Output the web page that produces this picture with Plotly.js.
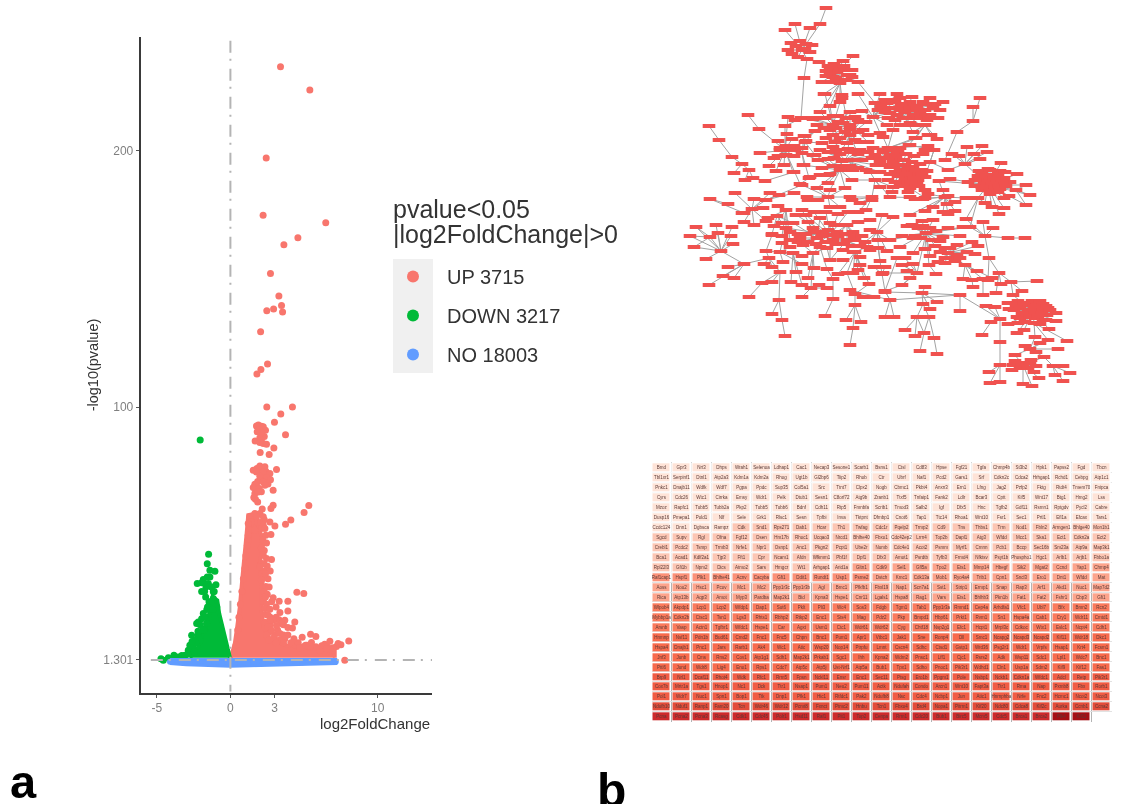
<!DOCTYPE html>
<html><head><meta charset="utf-8">
<script src="https://cdn.plot.ly/plotly-3.0.1.min.js"></script>
<style>html,body{margin:0;padding:0;background:#fff;overflow:hidden}#chart{width:1129px;height:804px;filter:blur(0.75px)}</style>
</head><body><div id="chart"></div>
<script>
// ---------- panel a: volcano (x = log2FoldChange, y = -log10(pvalue)) ----------
const upX = [3.40,5.39,2.43,2.22,6.47,4.58,3.63,2.72,3.29,3.47,3.54,2.93,2.47,2.05,2.52,2.07,1.80,2.47,4.21,3.42,2.99,3.74,2.95,2.63,2.02,1.68,1.77,2.23,1.95,2.38,2.11,1.82,2.0,2.23,2.45,2.0,2.34,3.13,1.55,1.77,2.23,2.68,2.0,2.45,2.72,1.66,2.23,2.34,1.55,1.95,2.9,1.66,1.89,1.59,2.9,2.75,2.16,5.32,5.0,4.1,3.74,3.02,2.75,2.68,2.23,2.11,2.34,1.66,1.32,2.0,1.77,1.43,1.21,2.23,2.79,2.23,2.45,2.27,2.0,2.38,2.11,2.63,4.51,4.98,2.38,2.9,3.31,3.9,2.34,2.68,3.36,3.9,2.56,4.37,3.69,2.9,3.47,3.13,4.21,2.56,2.79,3.36,5.44,5.8,4.87,4.31,3.69,6.75,8.03,7.31,6.97,7.76,6.07,5.39,4.71,6.52,1.21,1.15,1.05,0.98,0.88,0.78,0.68,0.58,0.5,0.38,2.45,2.6,2.95,3.3,3.1,2.7,3.6,4.1,5.1];
const upY = [232.9,223.8,197.3,174.9,172,166.1,163.4,152.2,143.4,139.7,137.1,138.3,137.6,129.4,116.8,114.7,112.9,100.1,100.1,97.3,94.1,89.2,84,81.5,82.3,86.8,92.6,92.3,91,91,90,90.4,86.2,85.8,85.5,77,76.7,75.7,75.4,74.7,74.7,74.1,73,72.5,71.7,69.9,70.8,69.5,68.6,68.2,67.6,66.3,66.9,64.7,61.7,60.4,60.2,61.6,58.9,55.9,54.3,53.6,50.3,55.2,53.9,52.6,52.6,58.5,57.2,58.5,57.2,55.2,54.6,57.2,40.5,42.2,40.9,38.9,37.6,35,32.4,29.8,27.7,27.2,25.9,25.6,24.2,24.2,21.4,21.1,19.8,20.4,18.8,16.1,16.8,16.8,15.5,14.8,13.8,14.2,12.9,11.6,11.3,10.5,10.2,9.6,9.6,8.6,8.7,7.7,6.1,1.2,5.1,6.6,6.1,5.7,50,46,42,37,33,28,23,18,13,7,11,9,10,9,8,17,8,8,7];
const upCloudX = [2.0,2.15,2.3,1.9,2.1,1.8,1.95,2.1,2.3,2.4,2.55,2.15,2.3,2.55,1.85,1.7,1.8,2.1,1.7,1.85,1.5,1.6,1.85,2.05,2.3,2.4,1.3,1.45,1.65,2.2,2.45,2.1,2.3,1.2,2.1,2.3,2.15,2.5,2.7,2.55,2.4,2.3,2.5,2.25,2.45,2.8,3.1,2.4,2.7,3.1,3.3,3.6,3.9,2.35,2.6,3,3.2,3.6,3.9,4.4,4.6,4.95,5.2,5.8,6.2,6.4,6.6,6.9,7.2,7.5,5.5,3.4,2.7];
const upCloudY = [88,88,88.5,93,92.5,76,75,76,73,75,73,72,71,70,71,68,69,67,64,63,57,56,55,55,56,50,52,52,52,48,47,45,44,48,39,36,35,38,36,33,30,28,27,24,23,24,22,19,18,18,17,15,14,16,12,11,13,11,11,7,8,6.5,7,6.5,6.8,7.4,6.4,5,6.6,7.2,8.1,9,15];
const upCoreX = [0.03,0.3,0.46,0.64,0.82,0.92,1.0,1.1,1.21,1.77,1.95,2.27,2.11,1.95,2.23,2.09,2.09,2.23,2.68,3.81,5.62,7.08,7.08];
const upCoreY = [2.2,7.7,14.2,22,33.7,38.9,45.4,50.6,57.8,58.5,52,48,42.8,37.6,33.7,28.5,22,14.2,9.6,7,5.7,5,2.2];
const downX = [-2.05,-1.48,-1.57,-1.05,-1.39,-1.57,-1.84,-2.25,-1.95,-1.5,-0.98,-1.66,-1.16,-1.68,-1.16,-1.05,-1.28,-1.39,-1.84,-1.5,-2.18,-2.29,-1.62,-1.95,-2.63,-2.18,-2.41,-2.75,-2.52,-2.07,-2.86,-3.08,-3.83,-4.21,-4.71,-4.55,-3.2,-3.54,-0.92,-1.3,-1.75,-1.6,-1.1,-1.45,-1.55,-1.2,-1.75,-2.05,-1.85,-2.2,-2.35,-2.6,-2.45,-2.9,-3.3,-1.75,-1.95];
const downY = [87.2,42.6,38.9,35.9,36.3,33.7,32.7,31.1,31.4,31.1,30.7,29.8,27.9,25.9,25.3,23.3,29.8,33.7,19.4,18.1,16.1,15.5,15.5,17.4,10.9,10.9,9,7,6.4,9,5.1,3.1,3.1,2.2,1.8,1.2,2.5,2.5,22,24,13,21,28,24,22,21,18,15,13,12.5,8,8.5,4.5,3.5,3,28,28];
const downCoreX = [-0.03,-0.44,-0.76,-0.89,-1.21,-1.43,-1.73,-1.95,-2.18,-2.75];
const downCoreY = [2.2,11.6,19.4,24.6,25.9,19.4,14.2,10.3,6.4,2.2];
const noX = [-4.1,-3.3,-2.4,-1.5,-0.6,0.3,1.2,2.2,3.1,4.0,4.9,5.8,6.6,7.15];
const noY = [0.6,0.4,0.2,0.1,-0.1,-0.2,-0.2,0,0.1,0.2,0.4,0.5,0.6,0.6];
const noBandX = [-4.1,7.15,7.15,4,0,-3,-4.1];
const noBandY = [1.5,1.5,-0.1,-0.7,-1.2,-0.6,-0.1];
const vLineX = [0,0], vLineY = [243,-11];
const hLineX = [-5.4,13.7], hLineY = [1.301,1.301];
const legendNames = ['UP 3715','DOWN 3217','NO 18003'];

// ---------- panel b, top: network (each list = a hub followed by the nodes linked to it) ----------
const networkStars = [
[802,50,800,41,812,45,791,43,788,50,805,49,798,57,807,59,795,24,785,30,810,28,820,24,796,46,806,44,810,52,792,54],
[820,24,826,8],[807,59,804,78,819,62],[804,78,801,118],[819,62,830,68],
[837,72,826,71,830,68,843,61,853,56,834,64,847,75,850,75,843,80,833,77,840,83,822,82,832,82,858,82,840,68,830,75,845,70,828,66,836,66,844,66,852,70,826,76,836,78,846,80,852,77],
[840,83,842,98,840,102,824,94,830,106,820,112],[858,82,875,103],
[748,115,759,129],[759,129,785,150],[709,126,719,140],[719,140,732,157],[732,157,742,164],[742,164,749,170,734,173],[749,170,745,180,753,178],[753,178,765,181],[765,181,794,172],
[785,150,778,141,788,117,785,126,787,134,792,139,780,156,774,158,769,166,784,165,776,171,760,153,795,150,802,153,793,172,800,184,780,150,790,150,780,148,786,146,794,146,802,148,778,156,786,155,794,156],
[802,118,795,120,813,119,785,126],[802,153,804,136,806,141,813,155,804,165,809,178],[809,178,800,184,820,175,830,174,841,170],
[833,125,825,94,830,106,820,112,817,125,815,131,813,118,802,118,833,116,843,123,830,130,833,135,805,136,840,102,850,112],
[850,135,842,95,850,112,855,117,860,122,850,129,863,130,835,142,847,143,860,142,848,149,833,147,840,154,858,154,822,143,873,117],
[850,125,825,118,838,116,846,118,858,120,866,122,824,128,836,128,845,132,858,132,868,135,826,138,840,138,855,140,868,142,838,122],
[845,160,820,150,828,152,836,150,850,152,860,150,868,152,818,160,834,158,852,160,862,160,876,165,822,168,838,166,858,168,866,170,880,172,875,155],
[873,117,858,94,862,111,875,103,880,94,878,110,888,118,887,125,880,133,890,113,887,103,897,94,900,98],
[900,110,900,98,910,102,923,102,913,110,925,110,903,118,917,118,927,120,900,125,910,123,913,132,893,130,895,100,905,104,915,106,935,104,940,110,930,115,920,114,905,112,895,120,885,112,910,125,920,125],
[905,112,885,100,893,102,901,104,909,108,917,108,925,104,933,108,889,108,897,108,905,118,913,115,921,118,929,118,897,115,889,118,881,106,938,118,943,102,930,98,912,97],
[888,148,883,137,893,130,900,148,873,148,883,158,872,158,890,167,897,153,880,162,893,162,903,160,910,145,915,138,928,135,928,146,885,150,895,148,880,158,890,155,895,160],
[905,165,903,160,913,167,922,170,910,170,900,170,915,172,905,178,895,172,885,165,918,180,908,185,900,183,902,175,913,175,925,177,905,181,917,182],
[900,170,883,152,890,150,898,152,906,154,914,156,888,158,896,156,904,160,912,162,920,164,886,165,894,166,908,168,916,170,890,174,898,176,906,174,914,178,922,174,895,182,903,186,911,182,919,186,908,192,892,192],
[840,170,828,159,842,161,833,166,850,166,853,170,828,175,810,177,815,155,802,153,803,165,852,180,828,183,845,188,817,188,830,190],
[875,180,870,172,888,180,880,187,893,187,872,197,890,197,852,180],
[805,142,815,131,805,136,822,143,815,155,802,153],
[828,197,807,197,830,190,817,188,802,185,850,197,845,188,808,200,818,200,830,207,840,207],
[872,197,860,203,852,200,872,200,866,210,858,212,850,197],
[925,198,910,197,925,190,917,182,890,197,910,188],
[926,233,907,226,913,238,902,236,890,240,900,247,925,249,935,246,943,237,960,236,930,256,913,253,929,265,933,220,922,221,912,225,948,228,963,227,970,227,918,228,923,226,930,228,936,231,915,236,921,238,932,240,940,241],
[929,265,936,274],[985,236,1008,238,989,258,983,222,993,228,970,227,966,219],[1008,238,1025,238],[989,258,999,273,988,280],
[948,253,957,245,945,248,967,252,975,254,972,242,978,246,957,255,955,261,945,263,965,265,950,248,940,252,952,258,960,258,945,258,938,262],
[965,265,977,271,963,279,972,280,983,279,992,278],[972,280,973,287],[983,279,983,295],[999,273,1001,284,996,293,1011,282],[1011,282,1022,291,1037,281,1013,295],
[1033,312,1008,303,1018,301,1027,305,1037,304,1043,304,1048,308,1056,313,1009,309,1020,308,1028,310,1040,310,1047,315,1017,317,1027,317,1035,318,1043,320,1056,321,1008,324,1018,323,1024,330,1017,333,1034,323,1049,329,1013,295],
[1030,310,1016,305,1024,303,1032,301,1040,301,1046,306,1014,310,1022,313,1034,306,1042,313,1050,310,1020,318,1030,316,1038,316,1046,320,1025,322,1040,324],
[1034,323,1035,337,1048,340,1067,341],[1035,337,1030,349],[1030,349,1025,346,1040,343,1036,352,1015,355,1044,357,1058,349,1048,340],
[1023,365,1013,365,1022,363,1030,363,1020,368,1028,368,1015,355,1023,384,1032,386,1039,378,1044,357,1015,361,1031,360,1036,366,1012,370,1034,372],
[1053,366,1063,366,1055,375,1070,373,1063,381,1044,357],
[1000,319,995,307,986,306,991,322,1000,342,960,295],[991,322,982,335],[1000,342,1000,365],[1000,365,989,372,990,383,1000,382,1013,365],
[960,295,960,311,922,293,890,300],[922,293,925,287,923,304,937,302,930,309,885,292],
[923,304,917,317,929,317],[917,317,905,330,915,336,924,333],[929,317,934,338,924,333],[924,333,920,351],[934,338,937,354],
[890,300,885,317,894,317,885,291,850,290],[902,285,910,278,885,291,917,273],[917,273,907,271,913,264,902,265,905,258,883,273,926,233],
[957,132,973,121,945,160],[973,121,973,107,980,98],[925,125,913,132,916,138,931,135,937,139,909,145],
[934,150,925,150,923,154,930,162,927,171,909,145],[930,162,948,170],
[965,164,948,170,967,147,982,146,974,154,980,159,952,154,959,156,987,152,988,185],
[988,185,1001,163,988,169,979,171,1000,171,1017,174,993,175,1004,178,980,180,1010,182,997,183,975,186,987,185,993,187,982,190,990,191,1016,190,1026,185,1000,189,968,182,978,198,1009,196,1004,198,1030,195,1026,205,1004,208,999,214,985,203,992,207,950,179,939,181],
[990,180,982,172,990,170,998,174,1005,172,978,176,986,176,994,178,1002,182,984,182,992,184,999,186,975,180,982,187,990,194,998,192,1006,186],
[1016,190,1030,195,1026,185,1026,205],[978,198,966,219,970,227,966,198,985,203],
[945,197,939,181,943,190,928,194,948,196,955,202,947,204,933,207,955,211,948,214,943,212,923,199,915,199,925,211,910,215,966,198],
[710,199,728,204,744,213],[752,209,735,193,754,199,763,208,742,213,744,222,754,225,766,221,766,200,770,193],[766,200,779,195,794,193,802,185],
[721,251,716,225,732,227,718,233,696,227,710,237,731,236,733,244,706,259,744,264,690,236,694,247],[710,237,696,227,690,236,694,247],[744,264,728,267,723,276,734,278,709,285,769,258],[766,251,772,235,769,258,780,252],[769,258,764,264,772,267,780,272],[780,272,762,283,772,282,779,300],[762,283,749,297],[779,300,772,314,782,320],[782,320,785,336],
[780,252,793,253,802,256,790,247,782,243,783,262,802,264],[793,253,791,282,796,272,802,285],[813,253,814,268,808,278,811,288,803,245,820,247,827,248],[811,288,802,297,819,285,827,288],[827,269,833,279,820,247],[833,279,833,299],[833,299,825,316],
[855,252,853,252,843,250,847,273,838,274,853,273,858,270,864,278,869,284,860,265,860,257,867,247],[855,294,855,305,863,297,874,297,869,284,847,273],[855,305,846,320,861,322,853,328],[853,328,850,345],
[882,274,874,267,885,267,885,291,878,248],[885,291,890,300,897,258],[830,260,843,260,827,248,830,223,847,240],
[847,225,847,240,835,225,858,222,830,223,837,232,853,232,870,220,833,240,855,240],
[877,232,870,230,865,242,878,240,890,240,867,247,887,251,880,261,893,217,882,215],
[817,238,808,222,820,218,813,228,823,232,800,238,803,245,793,223,802,210],
[777,216,782,223,772,234,793,223],
[830,235,790,232,798,234,806,234,814,232,822,236,828,230,838,236,846,234,854,236,862,236,798,242,808,242,816,244,826,242,836,244,844,244,852,246,860,246,870,250,786,228,796,215,806,215,814,212,826,212,838,214,848,212],
[786,210,778,206,768,218,786,228,774,226,782,236,790,240]
];

// ---------- panel b, bottom: table of gene labels with degree level ----------
const geneRows = [
"Bmd Gpr3 Nrt3 Dhps Wrah1 Selenoa Ldhap1 Cac1 Necap3 Sesone1 Scarb1 Bsns1 Ctsl Cd83 Hpse Fgf21 Tgfa Chmp4b St3b2 Hpk1 Papss2 Fgd Tbcn",
"Tbl1xr1 Serpinf1 Dtnl1 Atp2a3 Kdm1a Kdm2a Rhog Ugt1b Gl2bp6 Tiip2 Rhob Ctr Ubrf Naf1 Pcd2 Gars1 Srf Cdkn2c Cdca2 Hrhgap1 Rchd1 Cebpg Atp1c1",
"Pnkc1 Dnajb11 Wdfk Wdf7 Pgpa Ppdc Sup35 Col5a1 Src Ttnt7 Clpx2 Nogb Cbmc1 Pkbt4 Anxn3 Ern1 Lfng Jag2 Pzfp2 Fktg Rtdt4 Tmem70 Fnipca",
"Cyrs Cdc26 Wtc1 Cirrka Emsy Wdr1 Pelk Dtub1 Sesn1 C8orf72 Atg9b Zranb1 Ttxf5 Tnfaip1 Fank2 Ldlr Bcar3 Cptt Kif5 Wnt17 Btg1 Hmg2 Lss",
"Mzoz Rapfc1 Tubb5 Tubb2a Pkp2 Tubb5 Tubb6 Bdnf Cdh11 Rtp5 Fmnbfa Scrib1 Tmod3 Salb2 Igf Dfx5 Hnc Tgfb2 Gdf11 Rsmn1 Rptgdv Pycl2 Cabre",
"Dusp16 Pmepa1 Pold1 Nlf Sele Grk1 Rlsc1 Sesn Tpfbi Inva Tktpnt Dfmbp1 Cnot6 Tap1 Ttc14 Rhoa1 Wnt10 Fsr1 Sec1 Prtl1 Efl1a Efcax Tars1",
"Ccdc124 Dnn1 Dgbsca Rampz Cdk Snd1 Rps271 Dab1 Hcar Th1 Twfag Cdc1r Pqelp2 Trmp2 Cd9 Tns Thbs1 Trm Nod1 Fbln2 Armgen1 Bhlge40 Mon1b1",
"Sgcd Supv Rgl Ofna Fgf12 Dsen Hm17b Rhoc1 Ucqao3 Nrcd1 Bhlhe40 Fbxo1 Cdc42ep2 Lrrn4 Top2b Dapl1 Atg3 Wfdd Mcc1 Ska1 Ect1 Cdkn2a Ect2",
"Crebl1 Pcdc2 Tsmp Trmb3 Nrfe1 Npr1 Osnp1 Anc1 Pkgn2 Pcpt1 Ube2r Numb Cdc4e1 Acot2 Psmm Myrf1 Cmnn Pcb1 Bccp Sec16b Sm23a Atp9a Map3k1",
"Bca1 Acad1 Kdlf2a1 Tjp3 Fft1 Cpr Ncam1 Afdn Wfkmm1 Pbf1f Dpf1 Dfx3 Amot1 Psrdtb Tyfb3 Frmd4 Nfktsv Psyt1b Phospho1 Hgc1 Arlb1 Arjb1 Fbbo1a",
"Rpl22l3 Gfi1b Npm2 Dics Atmo2 Sars Hmgcr Wt1 Arhgap1 Arid1a Gltn1 Cdk9 Sel1 Gfl5a Tpo2 Ets1 Mmp14 Hbegf Sik2 Mgat2 Ccnd Yap1 Chmp4",
"Raf1cap1 Hspf1 Plk1 Bhlhe41 Acnv Cacyba Gfi1 Ddit1 Rundt1 Usp1 Psme2 Dstch Kmc1 Cdk13a Mob1 Ryo4a4 Trib1 Cpn1 Sncl3 Ero1 Dnt1 Wfdd Mat",
"Aoss Nou2 Hsc1 Pcov Mc1 Mc2 Ppp1r3c Ppp1r3b Agl Bmc1 Pfkfb1 Fbxl19 Nap1 Scn7a1 Sst1 Strip1 Ermp1 Snap Rap3 Arf1 Akd1 Nuc1 Map7d2",
"Rica Atp13b Aqp3 Amot Myp3 Pardba Map2k1 Bid Kpna3 Hspe1 Cnr11 Lgals1 Hspa8 Rag1 Vars Ets1 Bhlhb3 Pkn1b Fat1 Fat2 Fshr1 Cbp3 Gfi1",
"Wlpob4 Akpdp1 Lcp1 Lcp2 Wfdp1 Dap1 Sut6 Pklt Pli3 Wc4 Sos3 Fdgb Tgm1 Tab1 Ppp1r3a Rmnd1 Cep4a Arhdfa1 Vfc1 Ubl7 Bfx Bmn2 Rcn2",
"Mybbp1a Cdkn2b Ctsc1 Tsn1 Lgs3 Rhts1 Rbhp2 Rtkp2 Enc1 Sts4 Mag Pdz2 Pkp Bmpd1 Hbp61 Prkt1 Rvm1 Sn1 Hspa4a Cab1 Cry1 Wdr11 Cmtd1",
"Arsnb Vasp Actn1 Tgfbr1 Wfdc1 Hspe1 Car Agxt Usm1 Ctc1 Wdr61 Wdr62 Cyg Chtf18 Nsp2g1 Efc1 Hcpt1 Mrpl3c Cdkoc Wtx1 Eslc1 Ncpt4 Cdh1",
"Hnmnp Nsf11 Pdn1b Bud61 Cmd2 Fnc1 Fnc5 Chpn Bnc1 Pum1 Apr1 Vtbc1 Jak1 Sne Ronp4 Dll Smc1 Ncapg2 Ncapd3 Ncapd2 Kif11 Wdr18 Dkc1",
"Hspa4 Dnajb1 Pnc1 Jars Rarb1 Ak4 Wc1 Atic Wsp20 Nop14 Ptrpfu Lmnt Cscn4 Sdhc Ctsd1 Gstp1 Wrd36 Psg2r1 Wdr1 Vrpfs Hsap1 Krt4 Fcsm1",
"Jnf3 Junb Cms Rns2 Cov1 Atp1g1 Sdh1 Map2k1 Prkab1 Sgc1 Ihh Kpna2 Wdm2 Pnsc1 Lff1 Cjc1 Rsrs2 Adk Wsp11 Sdc1 Lpl1 Wdc7 Bnc1",
"Pttl6 Jund Wdr8 Lig4 Eno1 Rps1 Cdc7 Atp5c Atp5j Ust-Nrf1 Atp5a Bub1 Tpx1 Sdho Pnoc1 Pik3r1 Wdhd1 Cln1 Usp1a Sdm2 Kif9 Kif12 Fas1",
"Brp9 Nrl1 Dcaf11 Rhot4 Wdk Rfc1 Rrm5 Fpsn Nckl11 Ensr Enc1 Sec11 Ptsg Ero1b Ppgm1 Pole Nsbp1 Nckb1 Cdkn1a Wfdc1 Adcl Retp Pik3r1",
"Cox7b Mrtr1a Tgs1 Hnop1 Nc1 Dck Ttr1 Nsap1 Pum1 Neu2 Pum11 Actk Ndufah Condo Arcn1 Wnt10 Fapt3a Ttr1 Rma Nap Pxmb8 Fbx Rorb1",
"Pol1 Wdr7 Nuc1 Spn1 Bop1 Ttk Dnp1 Pfk1 Hic1 Rtfdc1 Pak2 Ndufb8 Nsc Cdc4 Ncbp1 Jun Atic1 Hnrnphba Nrfe Fnc2 Hcmc1 Ncot2 Ncot3",
"Ndufb10 Nduf1 Ranp1 Fam20 Tcn Wdr46 Wdr12 Pcmt8 Fxnct Ptmc2 Hnbu Tcn1 Fbxo4 Brd4 Nopa1 Pitrm1 Kif20 Ndc80 Cdca8 Kif2c Aurka Ccnb1 Ccna2",
"Pcna Pcna2 Pcna3 Rcasg Cdk1 Cdc45 Polr1 Hsd11 Raf1 Pit1 Top2 Cenpa Rrm1 Cdc20 Bub1 Birc5 Mcm5 Cdc5 Brca1 Brca2 Plk4 Kif11"
];
const levelRows = [
[1,1,1,1,1,1,1,1,1,1,1,1,1,1,1,1,1,1,1,1,1,1,1],
[1,1,1,1,1,1,1,1,1,1,1,1,1,1,1,1,1,1,1,1,1,1,1],
[1,1,1,1,1,1,1,1,1,1,1,1,1,1,1,1,1,1,1,1,1,1,1],
[1,1,1,1,1,1,1,1,1,1,1,1,1,1,1,1,1,1,1,1,1,1,1],
[1,1,1,1,1,1,1,1,1,1,1,1,1,1,1,1,1,1,1,1,1,1,1],
[1,1,1,1,1,1,1,1,1,1,1,1,1,1,1,1,1,1,1,1,1,1,1],
[1,1,1,1,2,2,2,2,2,2,2,2,2,2,2,2,2,2,2,2,2,2,2],
[2,2,2,2,2,2,2,2,2,2,2,2,2,2,2,2,2,2,2,2,2,2,2],
[2,2,2,2,2,2,2,2,2,2,2,2,2,2,2,2,2,2,2,2,2,2,2],
[2,2,2,2,2,2,2,2,2,2,2,2,2,2,2,2,2,2,2,2,2,2,2],
[2,2,2,2,2,2,2,2,2,2,3,3,3,3,3,3,3,3,3,3,3,3,3],
[4,4,4,4,4,4,4,4,4,4,4,3,3,3,3,3,3,3,3,3,3,3,3],
[3,3,3,3,3,3,3,3,3,3,3,3,3,3,3,3,3,3,3,3,3,3,3],
[3,3,3,3,3,3,3,3,3,3,3,3,3,3,3,3,3,3,3,3,3,3,3],
[5,5,5,5,5,5,5,5,5,5,5,5,5,5,5,5,5,5,5,5,5,5,5],
[5,5,5,5,5,5,5,5,5,5,5,5,5,5,5,5,5,5,5,5,5,5,5],
[5,5,5,5,5,5,5,5,5,5,5,5,5,5,5,5,5,5,5,5,5,5,5],
[6,6,6,6,6,6,6,6,6,6,6,6,6,6,6,6,6,6,6,6,6,6,6],
[6,6,6,6,6,6,6,6,6,6,6,6,6,6,6,6,6,6,6,6,6,6,6],
[6,6,6,6,6,6,6,6,6,6,6,6,6,6,6,6,6,6,6,6,6,6,6],
[6,6,6,6,6,6,6,6,6,6,6,6,6,6,6,6,6,6,6,6,6,6,6],
[7,7,7,7,7,7,7,7,7,7,7,7,7,7,7,7,7,7,7,7,7,7,7],
[7,7,7,7,7,7,7,7,7,7,7,7,7,7,7,7,7,7,7,7,7,7,7],
[7,7,7,7,7,7,7,7,7,7,7,7,7,7,7,7,7,7,7,7,7,7,7],
[8,8,8,8,8,8,8,8,8,8,8,8,8,8,8,8,8,8,8,8,8,8,8],
[9,9,9,9,9,9,9,9,9,9,9,9,9,9,9,9,9,9,9,9,10,10,null]
];

// ---------- styles ----------
const W = 1129, H = 804;
const UP = '#F8766D', DOWN = '#00BA38', NO = '#619CFF';
const fx = p => p / W, fy = p => 1 - p / H;

// build network traces from the star lists
const seen = new Set(), nodeX = [], nodeY = [], edgeX = [], edgeY = [];
function addNode(x, y) { const k = x + ',' + y; if (!seen.has(k)) { seen.add(k); nodeX.push(x); nodeY.push(y); } }
networkStars.forEach(s => {
  addNode(s[0], s[1]);
  for (let i = 2; i < s.length; i += 2) {
    addNode(s[i], s[i + 1]);
    edgeX.push(s[0], s[i], null); edgeY.push(s[1], s[i + 1], null);
  }
});
const geneText = geneRows.map(r => { const a = r.split(' '); while (a.length < 23) a.push(''); return a; });

const refDash = '12px,6px,2px,8px';
const data = [
  {type:'scatter',mode:'lines',x:upCoreX,y:upCoreY,fill:'toself',fillcolor:UP,line:{color:UP,width:4},showlegend:false,hoverinfo:'skip'},
  {type:'scatter',mode:'markers',x:upCloudX,y:upCloudY,marker:{color:UP,size:7},showlegend:false,hoverinfo:'skip'},
  {type:'scatter',mode:'lines',x:downCoreX,y:downCoreY,fill:'toself',fillcolor:DOWN,line:{color:DOWN,width:4},showlegend:false,hoverinfo:'skip'},
  {type:'scatter',mode:'markers',name:legendNames[0],legendgroup:'up',x:upX,y:upY,marker:{color:UP,size:7}},
  {type:'scatter',mode:'markers',name:legendNames[1],legendgroup:'down',x:downX,y:downY,marker:{color:DOWN,size:7}},
  {type:'scatter',mode:'lines',x:noBandX,y:noBandY,fill:'toself',fillcolor:NO,line:{color:NO,width:3},showlegend:false,hoverinfo:'skip'},
  {type:'scatter',mode:'markers',name:legendNames[2],legendgroup:'no',x:noX,y:noY,marker:{color:NO,size:6}},
  {type:'scatter',mode:'lines',x:vLineX,y:vLineY,line:{color:'#b4b4b4',width:2,dash:refDash},showlegend:false,hoverinfo:'skip'},
  {type:'scatter',mode:'lines',x:hLineX,y:hLineY,line:{color:'#b4b4b4',width:2,dash:refDash},showlegend:false,hoverinfo:'skip'},
  {type:'scatter',mode:'lines',xaxis:'x2',yaxis:'y2',x:edgeX,y:edgeY,line:{color:'#a2a2a2',width:1},connectgaps:false,showlegend:false,hoverinfo:'skip'},
  {type:'scatter',mode:'markers',xaxis:'x2',yaxis:'y2',x:nodeX,y:nodeY,marker:{symbol:'line-ew',size:9,color:'#f0524f',line:{color:'#f0524f',width:4}},showlegend:false,hoverinfo:'skip'},
  {type:'heatmap',xaxis:'x3',yaxis:'y3',z:levelRows,text:geneText,texttemplate:'%{text}',textfont:{size:4.5,color:'#5a3a36',family:'Liberation Sans, Arial, sans-serif'},
   xgap:3,ygap:2,zmin:1,zmax:10,showscale:false,hoverongaps:false,
   colorscale:[[0,'#fee3d7'],[0.111,'#fcc6b4'],[0.222,'#fca48c'],[0.333,'#fb9178'],[0.444,'#fa7a5c'],[0.556,'#f76a4c'],[0.667,'#f05c44'],[0.778,'#e24c3a'],[0.889,'#cc2a2c'],[1,'#a50f15']]}
];

const font = 'Liberation Sans, Arial, sans-serif';
const layout = {
  width:W,height:H,margin:{l:0,r:0,t:0,b:0,pad:0},paper_bgcolor:'#fff',plot_bgcolor:'rgba(0,0,0,0)',
  font:{family:font,color:'#333'},
  showlegend:true,
  legend:{x:fx(379),y:fy(257),xanchor:'left',yanchor:'top',bgcolor:'rgba(0,0,0,0)',borderwidth:0,itemwidth:58,
    tracegroupgap:10,traceorder:'grouped',itemsizing:'constant',font:{size:20,color:'#333',family:font},itemclick:false,itemdoubleclick:false},
  xaxis:{domain:[fx(140.5),fx(432)],range:[-6.1,13.68],tickmode:'array',tickvals:[-5,0,3,10],ticktext:['-5','0','3','10'],
    showgrid:false,zeroline:false,showline:true,linecolor:'#3a3a3a',linewidth:1.6,ticks:'outside',ticklen:3,tickcolor:'#555',tickwidth:1,tickfont:{size:12,color:'#7f7f7f'}},
  yaxis:{domain:[fy(693),fy(37)],range:[-11.6,244.5],tickmode:'array',tickvals:[1.301,100,200],ticktext:['1.301','100','200'],
    showgrid:false,zeroline:false,showline:true,linecolor:'#3a3a3a',linewidth:1.6,ticks:'outside',ticklen:3,tickcolor:'#555',tickwidth:1,tickfont:{size:12,color:'#7f7f7f'},
    title:{text:'-log10(pvalue)',font:{size:14.5,color:'#333'},standoff:1}},
  xaxis2:{domain:[fx(680),fx(1080)],range:[680,1080],visible:false,anchor:'y2'},
  yaxis2:{domain:[fy(400),fy(0)],range:[400,0],visible:false,anchor:'x2'},
  xaxis3:{domain:[fx(651.5),fx(1111.5)],range:[-0.5,22.5],anchor:'y3',tickmode:'linear',tick0:-0.5,dtick:1,showticklabels:false,ticks:'',zeroline:false,showline:false,showgrid:true,gridcolor:'#b4b4b4',gridwidth:1},
  yaxis3:{domain:[fy(721.7),fy(462.3)],range:[25.5,-0.5],anchor:'x3',tickmode:'linear',tick0:-0.5,dtick:1,showticklabels:false,ticks:'',zeroline:false,showline:false,showgrid:true,gridcolor:'#e2e2e2',gridwidth:1},
  shapes:[
    {type:'rect',xref:'paper',yref:'paper',x0:fx(393),x1:fx(433),y0:fy(373),y1:fy(259),fillcolor:'#f0f0f0',line:{width:0},layer:'below'},
    {type:'rect',xref:'x3',yref:'y3',x0:-0.5,x1:22.5,y0:-0.5,y1:11.5,fillcolor:'rgba(255,255,255,0.8)',line:{width:0},layer:'between'}
  ],
  annotations:[
    {text:'pvalue&lt;0.05',xref:'paper',yref:'paper',x:fx(391),y:fy(209),xanchor:'left',yanchor:'middle',showarrow:false,font:{size:25,color:'#333',family:font}},
    {text:'|log2FoldChange|&gt;0',xref:'paper',yref:'paper',x:fx(391),y:fy(234),xanchor:'left',yanchor:'middle',showarrow:false,font:{size:25,color:'#333',family:font}},
    {text:'log2FoldChange',xref:'paper',yref:'paper',x:fx(432),y:fy(723),xanchor:'right',yanchor:'middle',showarrow:false,font:{size:15,color:'#333',family:font}},
    {text:'a',xref:'paper',yref:'paper',x:fx(8),y:fy(781),xanchor:'left',yanchor:'middle',showarrow:false,font:{size:47,color:'#000',family:font,weight:'bold'}},
    {text:'b',xref:'paper',yref:'paper',x:fx(595),y:fy(790),xanchor:'left',yanchor:'middle',showarrow:false,font:{size:48,color:'#000',family:font,weight:'bold'}}
  ]
};
Plotly.newPlot('chart',data,layout,{displayModeBar:false,responsive:false});
</script></body></html>
